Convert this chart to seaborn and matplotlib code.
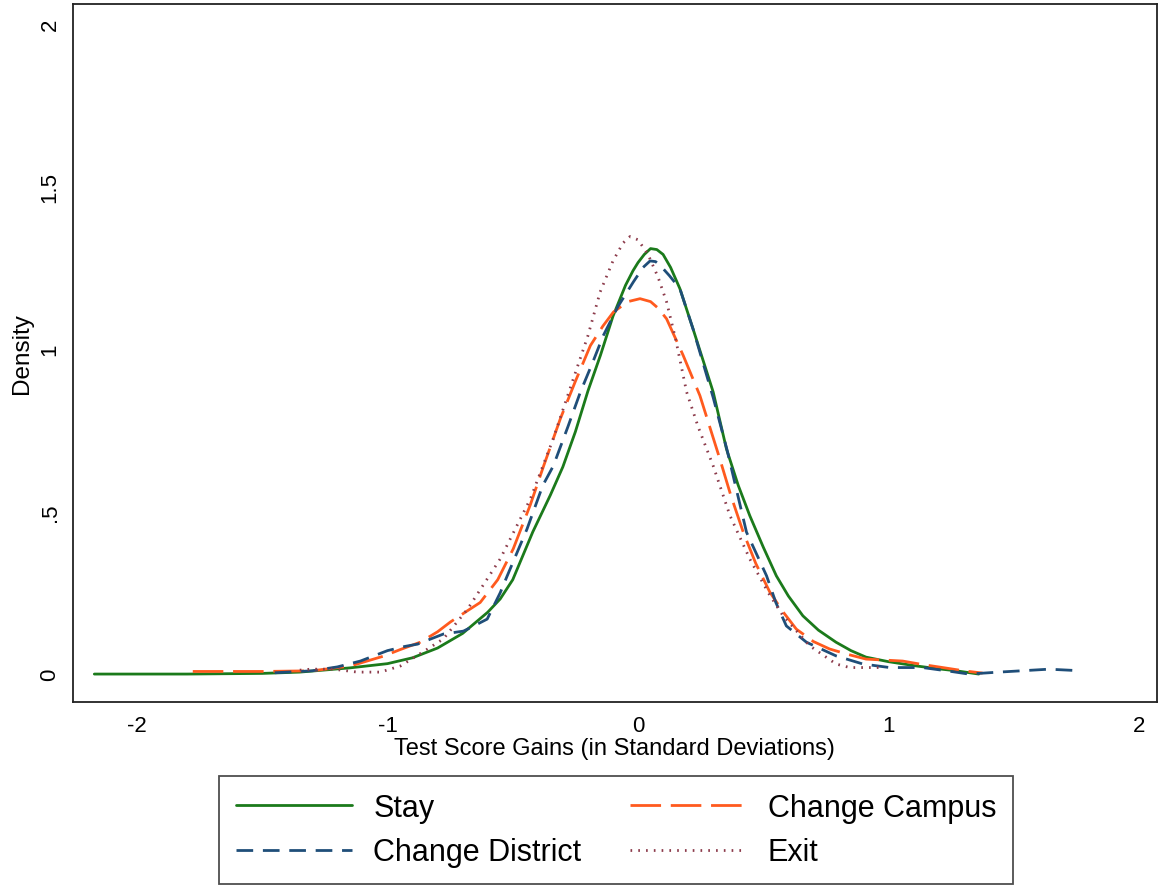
import numpy as np
import pandas as pd
import matplotlib
matplotlib.use("Agg")
import matplotlib.pyplot as plt
import seaborn as sns

# valori (densita' kernel)
stay_x = [-2.17, -1.8, -1.5, -1.35, -1.15, -1.0, -0.9, -0.8, -0.7, -0.6, -0.55, -0.5, -0.42,
          -0.35, -0.3, -0.25, -0.2, -0.15, -0.1, -0.05, -0.02, 0.0, 0.025, 0.05, 0.075,
          0.1, 0.13, 0.167, 0.22, 0.3, 0.353, 0.4, 0.446, 0.5, 0.552, 0.6, 0.658, 0.72,
          0.79, 0.85, 0.91, 1.0, 1.11, 1.2, 1.27, 1.36]
stay_y = [0.0, 0.0, 0.002, 0.006, 0.019, 0.032, 0.05, 0.08, 0.125, 0.19, 0.231, 0.29, 0.437,
          0.55, 0.637, 0.745, 0.87, 0.98, 1.10, 1.195, 1.24, 1.265, 1.29, 1.308, 1.305,
          1.29, 1.25, 1.185, 1.06, 0.867, 0.692, 0.58, 0.487, 0.39, 0.302, 0.24, 0.179,
          0.135, 0.098, 0.072, 0.052, 0.038, 0.025, 0.016, 0.01, 0.0]

campus_x = [-1.777, -1.5, -1.3, -1.147, -1.016, -0.95, -0.869, -0.8, -0.749, -0.69, -0.63,
            -0.56, -0.498, -0.43, -0.378, -0.31, -0.25, -0.19, -0.14, -0.098, -0.04, 0.008,
            0.05, 0.08, 0.114, 0.18, 0.247, 0.327, 0.37, 0.42, 0.47, 0.526, 0.58, 0.632,
            0.7, 0.765, 0.84, 0.91, 1.056, 1.13, 1.216, 1.3, 1.375]
campus_y = [0.008, 0.008, 0.01, 0.025, 0.055, 0.075, 0.098, 0.13, 0.16, 0.19, 0.22,
            0.29, 0.385, 0.52, 0.637, 0.785, 0.9, 1.01, 1.07, 1.113, 1.145, 1.154,
            1.145, 1.125, 1.092, 0.98, 0.856, 0.66, 0.55, 0.436, 0.34, 0.252, 0.19, 0.138,
            0.1, 0.077, 0.06, 0.046, 0.04, 0.03, 0.02, 0.01, 0.003]

district_x = [-1.45, -1.3, -1.2, -1.108, -1.0, -0.93, -0.88, -0.777, -0.697, -0.65, -0.602,
              -0.55, -0.522, -0.443, -0.38, -0.338, -0.28, -0.23, -0.18, -0.139, -0.08,
              -0.019, 0.02, 0.048, 0.07, 0.09, 0.125, 0.167, 0.22, 0.3, 0.355, 0.433, 0.513,
              0.55, 0.592, 0.672, 0.79, 0.897, 1.004, 1.136, 1.25, 1.32, 1.44, 1.64, 1.77]
district_y = [0.004, 0.01, 0.022, 0.04, 0.072, 0.085, 0.092, 0.123, 0.132, 0.15, 0.169,
              0.25, 0.302, 0.446, 0.58, 0.64, 0.76, 0.867, 0.96, 1.04, 1.13,
              1.205, 1.25, 1.27, 1.268, 1.255, 1.225, 1.185, 1.06, 0.85, 0.69, 0.436, 0.302,
              0.22, 0.148, 0.098, 0.056, 0.031, 0.02, 0.02, 0.008, 0.0, 0.006, 0.015, 0.01]

exit_x = [-1.35, -1.307, -1.215, -1.12, -1.028, -0.948, -0.84, -0.777, -0.68, -0.55, -0.43,
          -0.34, -0.258, -0.2, -0.151, -0.1, -0.06, -0.032, 0.0, 0.04, 0.08, 0.114, 0.15,
          0.194, 0.24, 0.3, 0.367, 0.446, 0.52, 0.579, 0.685, 0.79, 0.845, 0.92, 0.98]
exit_y = [0.012, 0.015, 0.015, 0.006, 0.006, 0.025, 0.077, 0.108, 0.2, 0.354, 0.538,
          0.72, 0.908, 1.04, 1.175, 1.27, 1.325, 1.345, 1.335, 1.29, 1.22, 1.144, 1.03,
          0.867, 0.76, 0.64, 0.487, 0.354, 0.25, 0.179, 0.087, 0.031, 0.02, 0.02, 0.02]

x_ticks = [-2, -1, 0, 1, 2]
x_ticklabels = ["-2", "-1", "0", "1", "2"]
y_ticks = [0, 0.5, 1, 1.5, 2]
y_ticklabels = ["0", ".5", "1", "1.5", "2"]

frames = []
for nome, xs, ys in [("Stay", stay_x, stay_y), ("Change Campus", campus_x, campus_y),
                     ("Change District", district_x, district_y), ("Exit", exit_x, exit_y)]:
    frames.append(pd.DataFrame({"gain": xs, "density": ys, "group": nome}))
data = pd.concat(frames, ignore_index=True)

sns.set_style("white")
plt.rcParams['font.family'] = ['Liberation Sans', 'DejaVu Sans']
plt.rcParams['text.color'] = 'black'
plt.rcParams['axes.labelcolor'] = 'black'
plt.rcParams['xtick.color'] = 'black'
plt.rcParams['ytick.color'] = 'black'

palette = {"Stay": "#1b7a1b", "Change Campus": "#ff5a1e",
           "Change District": "#1f4e79", "Exit": "#8c3b4b"}
dashes = {"Stay": "", "Change Campus": (11, 3.5),
          "Change District": (6, 3.5), "Exit": (0.6, 2.2)}

fig = plt.figure(figsize=(11.59, 8.87), dpi=100)
ax = fig.add_axes([0.063, 0.2074, 0.935, 0.787])

sns.lineplot(data=data, x="gain", y="density", hue="group", style="group",
             palette=palette, dashes=dashes, estimator=None, sort=False,
             linewidth=2, ax=ax)

ax.set_xlim(-2.255, 2.07)
ax.set_ylim(-0.086, 2.06)
ax.set_xticks(x_ticks)
ax.set_xticklabels(x_ticklabels)
ax.set_yticks(y_ticks)
ax.set_yticklabels(y_ticklabels, rotation=90, va="center")
ax.tick_params(axis="both", length=0, labelsize=16, pad=9)
ax.set_xlabel("Test Score Gains (in Standard Deviations)", fontsize=17, labelpad=1)
ax.set_ylabel("Density", fontsize=17.5, labelpad=5)
for s in ax.spines.values():
    s.set_color("#222222")
    s.set_linewidth(1.3)

handles, labels = ax.get_legend_handles_labels()
ax.get_legend().remove()
hd = dict(zip(labels, handles))
ordine = ["Stay", "Change District", "Change Campus", "Exit"]
leg = fig.legend([hd[k] for k in ordine], ordine, loc="lower center",
                 bbox_to_anchor=(0.5315, 0.002), ncol=2, fontsize=22,
                 handlelength=3.8, columnspacing=1.6, handletextpad=0.7,
                 frameon=True, fancybox=False, edgecolor="#222222",
                 borderpad=0.55, labelspacing=0.48, borderaxespad=0)
leg.get_frame().set_linewidth(1.3)

fig.savefig("out.png", dpi=100)
